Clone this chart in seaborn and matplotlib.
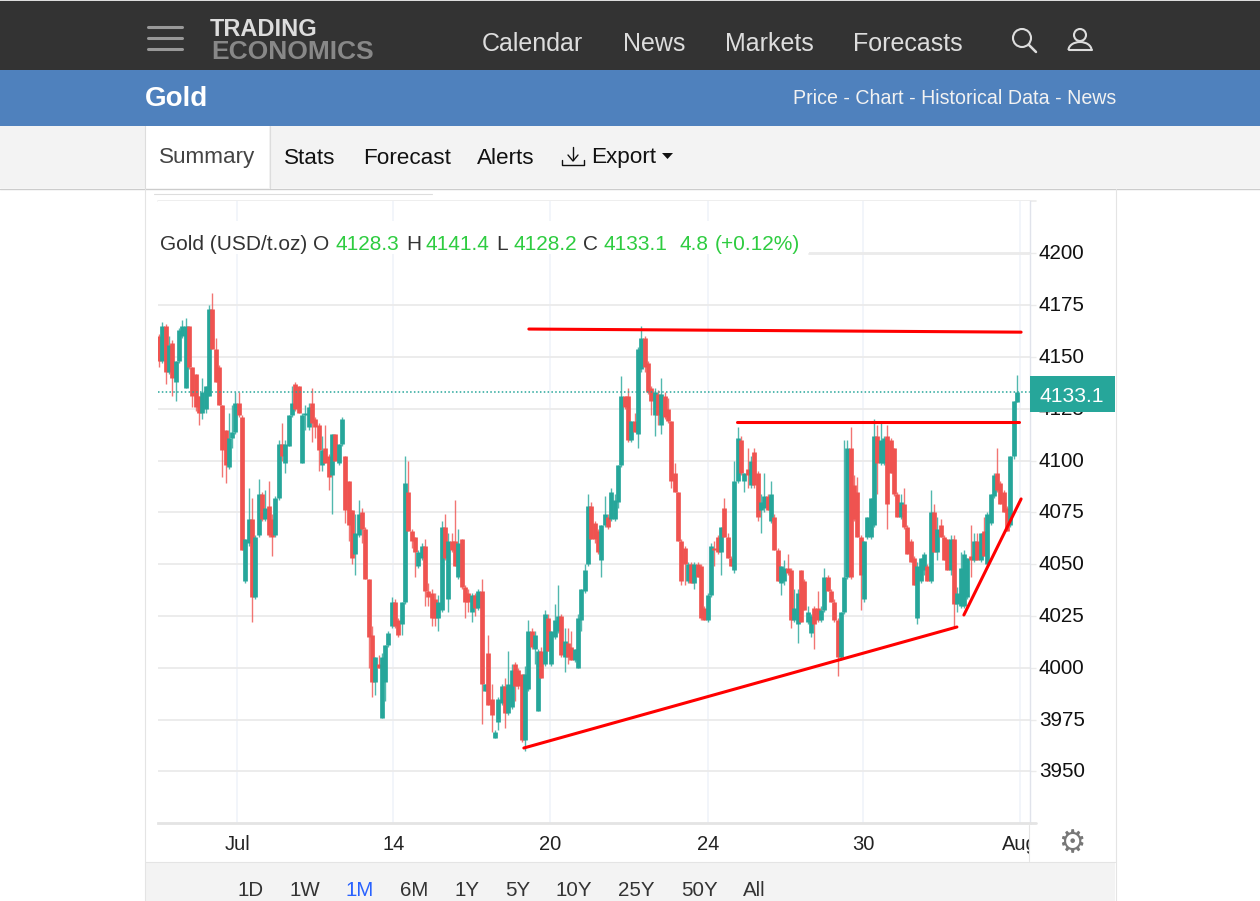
import numpy as np
import pandas as pd
import matplotlib
matplotlib.use('Agg')
import matplotlib.pyplot as plt
from matplotlib.patches import Rectangle, Circle, Arc, Polygon
from matplotlib.transforms import ScaledTranslation
import seaborn as sns

# Candles (USD/t.oz)
opens = [4160,4148,4165,4143,4157,4138,4148,4160,4135,4165,
         4145,4142,4131,4123,4125,4131,4173,4154,4145,4127,
         4115,4097,4111,4114,4128,4121,4042,4060,4072,4034,
         4064,4084,4072,4078,4072,4064,4082,4108,4099,4107,
         4122,4137,4136,4099,4122,4116,4128,4120,4117,4098,
         4106,4102,4093,4113,4099,4108,4102,4090,4076,4055,
         4064,4075,4067,4043,4016,3993,4002,3976,3993,4011,
         4020,4032,4023,4021,4032,4085,4066,4063,4049,4053,
         4059,4037,4036,4033,4024,4028,4068,4033,4061,4061,
         4044,4062,4039,4036,4027,4035,4029,4037,3989,4007,
         3985,3966,3974,3983,3991,3978,3981,4002,3999,3997,
         3965,3990,4018,4009,3979,4008,4002,4024,4002,4015,
         4018,4025,4005,4012,4010,4004,4000,4023,4037,4050,
         4078,4070,4066,4052,4069,4073,4072,4072,4080,4098,
         4131,4131,4110,4119,4113,4144,4159,4147,4135,4122,
         4132,4117,4131,4125,4119,4094,4085,4061,4058,4042,
         4050,4041,4050,4049,4029,4023,4035,4058,4063,4056,
         4077,4063,4053,4047,4090,4110,4090,4096,4088,4104,
         4094,4076,4077,4083,4071,4073,4057,4041,4042,4048,
         4047,4023,4021,4047,4042,4022,4017,4029,4029,4023,
         4028,4044,4037,4032,4023,4005,4027,4044,4106,4088,
         4085,4063,4033,4063,4063,4069,4112,4099,4099,4112,
         4110,4106,4084,4073,4079,4068,4061,4053,4024,4042,
         4047,4049,4042,4075,4056,4069,4063,4062,4047,4062,
         4031,4030,4030,4034,4054,4052,4061,4052,4066,4050,
         4070,4083,4094,4089,4085,4077,4069,4102,4128.3]
highs = [4161,4167,4166,4160,4158,4148,4164,4168,4169,4165,
         4145,4142,4131,4140,4136,4175,4181,4159,4146,4127,
         4115,4123,4127,4133,4133,4122,4062,4087,4082,4064,
         4091,4085,4086,4090,4074,4083,4110,4118,4110,4122,
         4136,4138,4136,4123,4127,4128,4135,4121,4118,4112,
         4117,4103,4113,4113,4108,4121,4102,4090,4076,4074,
         4081,4077,4068,4043,4020,4005,4006,4007,4011,4018,
         4034,4033,4024,4032,4102,4100,4067,4063,4057,4060,
         4062,4041,4038,4036,4035,4071,4074,4065,4065,4081,
         4067,4062,4040,4038,4036,4036,4038,4043,3992,4016,
         3992,3970,3986,3992,3995,4008,4002,4003,4000,3997,
         4001,4023,4019,4018,4009,4010,4028,4026,4018,4031,
         4040,4026,4019,4019,4018,4009,4026,4038,4050,4084,
         4080,4071,4067,4069,4083,4074,4087,4084,4098,4141,
         4131,4135,4119,4123,4155,4165,4160,4148,4136,4135,
         4134,4140,4133,4130,4119,4099,4085,4062,4059,4051,
         4051,4051,4051,4050,4030,4036,4060,4061,4064,4068,
         4082,4065,4054,4100,4116,4112,4094,4106,4102,4106,
         4095,4084,4094,4084,4090,4074,4058,4049,4052,4055,
         4048,4038,4038,4047,4043,4030,4026,4030,4037,4030,
         4048,4045,4038,4033,4024,4027,4110,4110,4116,4093,
         4092,4064,4061,4073,4082,4120,4117,4119,4112,4117,
         4111,4106,4085,4084,4087,4069,4062,4054,4051,4053,
         4056,4050,4086,4079,4073,4072,4064,4062,4064,4064,
         4039,4056,4057,4053,4069,4065,4065,4065,4073,4075,
         4084,4094,4106,4090,4086,4078,4102,4129,4141.4]
lows = [4145,4147,4137,4142,4131,4129,4147,4159,4135,4144,
        4126,4124,4117,4120,4123,4131,4154,4138,4127,4092,
        4089,4096,4106,4113,4121,4057,4041,4059,4022,4033,
        4063,4071,4071,4063,4054,4063,4081,4100,4094,4107,
        4121,4124,4123,4099,4115,4115,4109,4111,4095,4095,
        4099,4086,4074,4100,4098,4107,4070,4061,4050,4045,
        4063,4060,4043,4000,3986,3987,4000,3976,3984,4010,
        4019,4019,4015,4016,4031,4066,4058,4044,4048,4052,
        4030,4030,4020,4020,4018,4027,4052,4027,4056,4049,
        4043,4038,4024,4027,4022,4025,4028,3973,3989,3982,
        3969,3966,3970,3982,3971,3977,3980,3984,3990,3964,
        3960,3989,4009,4002,3979,3995,4001,4008,4001,4014,
        4017,4005,3998,4002,4004,4003,4000,4018,4036,4049,
        4062,4060,4055,4044,4068,4067,4071,4071,4077,4097,
        4125,4109,4109,4114,4106,4143,4143,4132,4122,4112,
        4117,4113,4120,4118,4087,4085,4061,4040,4040,4041,
        4041,4038,4044,4023,4023,4022,4034,4049,4055,4045,
        4063,4053,4049,4046,4089,4093,4085,4087,4087,4087,
        4071,4065,4075,4076,4070,4057,4042,4035,4040,4045,
        4019,4022,4012,4022,4028,4021,4015,4009,4022,4022,
        4027,4037,4032,4022,3996,4004,4026,4043,4043,4071,
        4063,4028,4032,4062,4062,4068,4084,4098,4098,4067,
        4094,4083,4073,4072,4067,4055,4051,4040,4021,4041,
        4045,4042,4041,4056,4052,4063,4052,4047,4045,4019,
        4027,4029,4029,4033,4044,4051,4052,4051,4054,4049,
        4069,4082,4085,4079,4075,4066,4068,4101,4128.2]
closes = [4148,4165,4143,4156,4140,4148,4163,4165,4165,4145,
          4131,4126,4123,4133,4136,4173,4154,4138,4127,4105,
          4098,4111,4114,4128,4122,4057,4062,4072,4034,4063,
          4084,4072,4077,4064,4063,4082,4108,4102,4108,4122,
          4128,4125,4123,4122,4123,4126,4118,4116,4105,4105,
          4099,4092,4113,4100,4108,4120,4076,4069,4053,4065,
          4074,4067,4043,4015,3993,4005,4000,4005,4011,4017,
          4032,4020,4016,4032,4089,4066,4061,4056,4056,4059,
          4037,4034,4024,4024,4032,4068,4053,4061,4057,4049,
          4060,4039,4032,4032,4035,4029,4037,3992,3992,3982,
          3977,3969,3985,3991,3978,3992,3999,3991,3991,3965,
          3997,4018,4010,4016,4008,3995,4026,4008,4018,4023,
          4025,4006,4013,4005,4004,4009,4024,4038,4047,4078,
          4062,4062,4056,4069,4074,4068,4085,4081,4098,4131,
          4126,4110,4119,4114,4154,4159,4145,4133,4129,4133,
          4122,4132,4121,4119,4090,4085,4061,4042,4050,4050,
          4041,4050,4044,4024,4023,4035,4059,4057,4056,4068,
          4063,4053,4049,4090,4111,4094,4094,4093,4100,4088,
          4073,4080,4083,4076,4084,4057,4042,4049,4048,4046,
          4023,4029,4036,4022,4028,4027,4025,4021,4023,4028,
          4044,4037,4032,4023,4005,4027,4044,4106,4044,4072,
          4063,4045,4061,4073,4082,4112,4099,4110,4111,4079,
          4094,4084,4073,4080,4068,4055,4051,4040,4049,4053,
          4055,4042,4075,4056,4067,4063,4052,4047,4062,4031,
          4036,4048,4055,4053,4052,4061,4052,4065,4054,4074,
          4084,4093,4086,4079,4075,4066,4102,4129,4133.1]

last_price = 4133.1
price_ticks = [3950, 3975, 4000, 4025, 4050, 4075, 4100, 4125, 4150, 4175, 4200]
date_ticks = [23.5, 70.5, 117.6, 165, 211.7, 258.9]
date_labels = ['Jul', '14', '20', '24', '30', 'Aug']

# hand-drawn trend lines on the chart: (bar position, price)
top_line_x, top_line_y = [111.2, 259.2], [4163.5, 4162]
mid_line_x, mid_line_y = [173.8, 258.6], [4118.7, 4118.7]
low_line_x, low_line_y = [109.7, 239.9], [3961.3, 4019.7]
steep_line_x, steep_line_y = [242, 259.2], [4025.5, 4081.5]

nav_items = ['Calendar', 'News', 'Markets', 'Forecasts']
tab_items = ['Stats', 'Forecast', 'Alerts']
range_items = ['1D', '1W', '1M', '6M', '1Y', '5Y', '10Y', '25Y', '50Y', 'All']

UP = '#26a69a'
DOWN = '#ef5350'
GRID = '#ebebeb'
LEGEND_GREEN = '#2ecc40'

sns.set_style('white')
plt.rcParams['font.family'] = ['Liberation Sans', 'DejaVu Sans']

# --- Candle table ---
n = len(closes)
candle = np.arange(n)
colors = {i: (UP if closes[i] >= opens[i] else DOWN) for i in candle}
wicks = pd.DataFrame({'candle': np.tile(candle, 2), 'price': highs + lows})
bodies = pd.DataFrame({'candle': np.tile(candle, 2), 'price': opens + closes})
wicks['x'] = wicks['candle']
bodies['x'] = bodies['candle']

W, H = 1260, 901
fig = plt.figure(figsize=(W / 100, H / 100), dpi=100, facecolor='white')


def page_axes(zorder):
    a = fig.add_axes([0, 0, 1, 1], zorder=zorder)
    a.set_xlim(0, W)
    a.set_ylim(H, 0)
    a.axis('off')
    a.patch.set_alpha(0)
    return a


bg = page_axes(0)
fg = page_axes(2)

# --- Page furniture below the chart ---
bg.add_patch(Rectangle((0, 0), W, 70, color='#333333', lw=0))
bg.add_patch(Rectangle((0, 0), W, 1, color='#dddddd', lw=0))
bg.add_patch(Rectangle((0, 70), W, 56, color='#4f81bd', lw=0))
bg.add_patch(Rectangle((0, 126), W, 62, color='#f3f3f3', lw=0))
bg.add_patch(Rectangle((145, 126), 124, 62, color='white', lw=0))
bg.plot([144.5, 144.5], [126, 188], color='#dddddd', lw=0.8)
bg.plot([269.5, 269.5], [126, 188], color='#dddddd', lw=0.8)
bg.plot([0, W], [188.5, 188.5], color='#cccccc', lw=1)
bg.plot([144.5, 144.5], [189, H], color='#e4e4e4', lw=0.8)
bg.plot([1115.5, 1115.5], [189, H], color='#e4e4e4', lw=0.8)
bg.add_patch(Rectangle((145, 862), 970, 39, color='#f3f3f3', lw=0))
bg.plot([145, 1115], [861.5, 861.5], color='#e4e4e4', lw=0.8)
bg.plot([154, 432], [193.5, 193.5], color='#dddddd', lw=0.8)
bg.plot([158, 1036], [200.5, 200.5], color=GRID, lw=1.2)

for y in [27, 38, 49]:
    bg.plot([148, 182], [y, y], color='#999999', lw=2.2, solid_capstyle='round')
bg.text(210, 30, 'TRADING', color='#dddddd', fontsize=17, fontweight='bold', va='center')
bg.text(211, 52, 'ECONOMICS', color='#888888', fontsize=19, fontweight='bold', va='center')
for label, x in zip(nav_items, [482, 623, 725, 853]):
    bg.text(x, 44, label, color='#dddddd', fontsize=18, va='center')

bg.add_patch(Circle((1022, 38), 9, fill=False, ec='#dddddd', lw=1.5))
bg.plot([1029, 1036], [45, 52], color='#dddddd', lw=1.8)
bg.add_patch(Circle((1080, 35), 6, fill=False, ec='#dddddd', lw=1.5))
bg.add_patch(Arc((1080, 50), 23, 16, theta1=180, theta2=360, ec='#dddddd', lw=1.5))
bg.plot([1068.5, 1091.5], [50, 50], color='#dddddd', lw=1.5)

bg.text(145, 99, 'Gold', color='white', fontsize=20, fontweight='bold', va='center')
bg.text(1116, 99, 'Price - Chart - Historical Data - News', color='#f2f2f2', fontsize=14.1,
        va='center', ha='right')

bg.text(159, 158, 'Summary', color='#444444', fontsize=16.2, va='center')
for label, x in zip(tab_items, [284, 363, 477]):
    bg.text(x, 158, label, color='#111111', fontsize=16.2, va='center')
bg.text(591, 158, 'Export', color='#111111', fontsize=16.2, va='center')
bg.plot([573, 573], [147, 160], color='#111111', lw=1)
bg.plot([568, 573, 578], [155, 161, 155], color='#111111', lw=1)
bg.plot([562, 562, 584, 584], [160, 165, 165, 160], color='#111111', lw=1)
bg.add_patch(Polygon([[662, 153], [673, 153], [667.5, 159]], color='#111111', lw=0))

# --- Chart ---
left, right, top, bottom = 158, 1030, 201, 823
px_per_bar = 3.326
ax = fig.add_axes([left / W, 1 - bottom / H, (right - left) / W, (bottom - top) / H], zorder=1)
ax.set_xlim((left - 159) / px_per_bar, (right - 159) / px_per_bar)
ax.set_ylim(3925.1, 4225.3)

sns.lineplot(data=wicks, x='x', y='price', hue='candle', palette=colors, estimator=None,
             errorbar=None, sort=False, legend=False, lw=1.0, alpha=0.8,
             solid_capstyle='butt', ax=ax)
sns.lineplot(data=bodies, x='x', y='price', hue='candle', palette=colors, estimator=None,
             errorbar=None, sort=False, legend=False, lw=3.4,
             solid_capstyle='butt', ax=ax)

ax.axhline(last_price, color=UP, lw=1.1, ls=(0, (1, 1.5)))

for xs, ys in [(top_line_x, top_line_y), (mid_line_x, mid_line_y),
               (low_line_x, low_line_y), (steep_line_x, steep_line_y)]:
    sns.lineplot(x=xs, y=ys, color='#ff0000', lw=2.2, estimator=None, errorbar=None,
                 solid_capstyle='round', ax=ax)

ax.set_xlabel('')
ax.set_ylabel('')
ax.set_yticks(price_ticks)
ax.set_xticks(date_ticks)
ax.set_xticklabels(date_labels)
ax.yaxis.tick_right()
ax.set_axisbelow(True)
ax.grid(axis='y', color=GRID, lw=1.3)
ax.grid(axis='x', color='#f0f3fa', lw=1.2)
ax.tick_params(axis='y', length=4.3, width=1, color=GRID, pad=2, labelsize=14.9,
               labelcolor='#111111', right=True, left=False)
ax.tick_params(axis='x', length=0, pad=9, labelsize=14.5, labelcolor='#222222', bottom=True)
nudge = ScaledTranslation(0, 1.5 / 100, fig.dpi_scale_trans)
for tick_label in ax.get_yticklabels():
    tick_label.set_transform(tick_label.get_transform() + nudge)
for side in ['top', 'left']:
    ax.spines[side].set_visible(False)
ax.spines['right'].set_color('#e0e3eb')
ax.spines['right'].set_linewidth(1)
ax.spines['bottom'].set_color('#e4e4e4')
ax.spines['bottom'].set_linewidth(2)

# --- Page furniture above the chart ---
fg.plot([1030, 1036], [823, 823], color='#e4e4e4', lw=2)
fg.add_patch(Rectangle((158, 221), 651, 33, color='white', lw=0))
fg.plot([809, 1030], [253.5, 253.5], color=GRID, lw=1.3)
legend_bits = [(160, 'Gold (USD/t.oz) O', '#333333'), (335, '4128.3', LEGEND_GREEN),
               (406, 'H', '#333333'), (426, '4141.4', LEGEND_GREEN),
               (496, 'L', '#333333'), (513.5, '4128.2', LEGEND_GREEN),
               (583, 'C', '#333333'), (604, '4133.1', LEGEND_GREEN),
               (679, '4.8', LEGEND_GREEN), (715, '(+0.12%)', LEGEND_GREEN)]
for x, label, col in legend_bits:
    fg.text(x, 244, label, color=col, fontsize=15, va='center')

fg.add_patch(Rectangle((1030, 376), 85, 36, color=UP, lw=0))
fg.text(1072, 396, f'{last_price}', color='white', fontsize=15.2, ha='center', va='center')

# cut the last date label at the price scale, as the page does
fg.add_patch(Rectangle((1029, 825), 60, 36, color='white', lw=0))
fg.plot([1028.5, 1028.5], [825, 861], color='#e4e4e4', lw=0.8)
fg.text(1072, 844, '\u2699', color='#777777', fontsize=22, ha='center', va='center',
        family='DejaVu Sans')

for label, x in zip(range_items, [251, 305, 360, 414, 467, 518, 574, 636, 699, 754]):
    col = '#2962ff' if label == '1M' else '#333333'
    fg.text(x, 891, label, color=col, fontsize=14.8, ha='center', va='center')

fig.savefig('out.png', dpi=100)
